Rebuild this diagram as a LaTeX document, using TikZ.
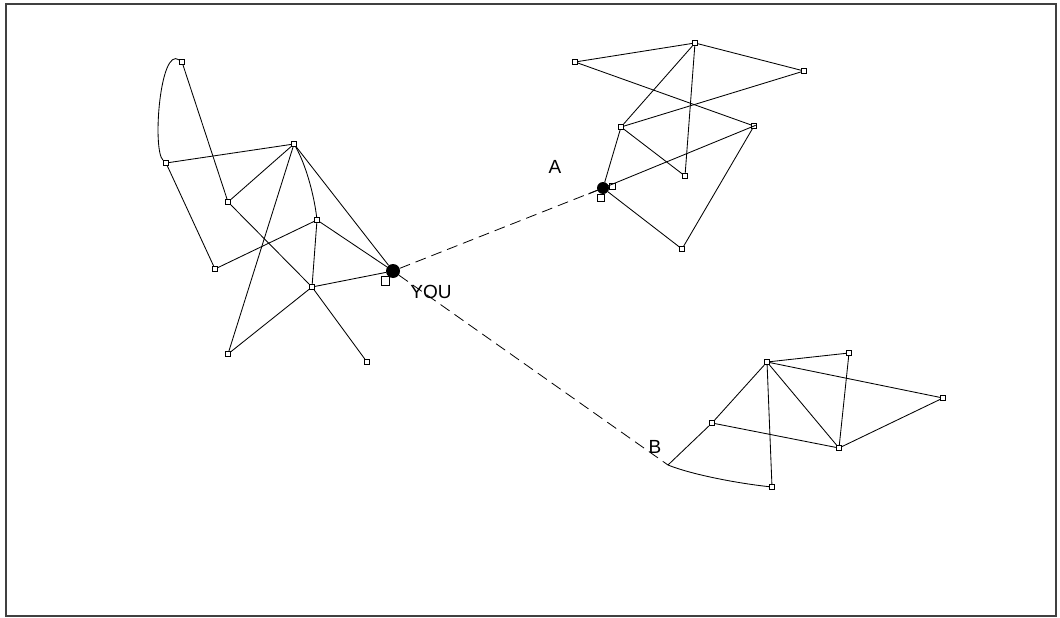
\documentclass[tikz,border=0pt]{standalone}
\usepackage{fontspec}
\setmainfont{Liberation Sans}
\begin{document}
\begin{tikzpicture}[x=1pt,y=-1pt,
  mk/.style={draw,rectangle,minimum size=5pt,inner sep=0pt,line width=0.9pt,fill=white},
  hub/.style={circle,fill=black,minimum size=14pt,inner sep=0pt},
  link/.style={line width=0.85pt},
  tie/.style={line width=0.8pt,dash pattern=on 11pt off 6pt},
  lbl/.style={font=\fontsize{19}{19}\selectfont,inner sep=0pt}]
\useasboundingbox (0,0) rectangle (1060,618);
\draw[black!75,line width=1.6pt] (6,4) rectangle (1056,616);

% left group
\node[mk] (L1) at (182,62) {};
\node[mk] (L2) at (166,163) {};
\node[mk] (L3) at (294,144) {};
\node[mk] (L4) at (228,202) {};
\node[mk] (L5) at (317,220) {};
\node[mk] (L6) at (215,269) {};
\node[mk] (L7) at (312,287) {};
\node[mk] (L8) at (228,354) {};
\node[mk] (L9) at (367,362) {};
\node[hub] (Y) at (393,271) {};
\draw[line width=0.8pt] (381,276) rectangle (389,285);

% upper right group
\node[mk] (R1) at (695,43) {};
\node[mk] (R2) at (575,62) {};
\node[mk] (R3) at (804,71) {};
\node[mk] (R4) at (621,127) {};
\node[mk] (R5) at (754,126) {};
\node[mk] (R6) at (685,176) {};
\node[mk] (R7) at (682,249) {};
\node[hub,minimum size=12pt] (A) at (603,188) {};
\draw[line width=0.7pt] (597,194) rectangle (604,201) (609,183) rectangle (615,189);

% lower right group
\node[mk] (S1) at (767,362) {};
\node[mk] (S2) at (849,353) {};
\node[mk] (S3) at (943,398) {};
\node[mk] (S4) at (712,423) {};
\node[mk] (S5) at (839,448) {};
\node[mk] (S6) at (772,487) {};
\coordinate (B) at (668,465);

\begin{scope}[link]
  \draw (L1) .. controls (160,46) and (152,150) .. (L2);
  \draw (L1) -- (L4);
  \draw (L2) -- (L3);
  \draw (L2) -- (L6);
  \draw (L3) -- (L4);
  \draw (L3) -- (L8);
  \draw (L3) .. controls (306,165) and (314,195) .. (L5);
  \draw (L3) -- (Y);
  \draw (L4) -- (L7);
  \draw (L5) -- (L6);
  \draw (L5) -- (L7);
  \draw (L5) -- (Y);
  \draw (L7) -- (Y);
  \draw (L7) -- (L8);
  \draw (L7) -- (L9);

  \draw (R1) -- (R2);
  \draw (R1) -- (R3);
  \draw (R1) -- (R4);
  \draw (R1) -- (R6);
  \draw (R2) -- (R5);
  \draw (R3) -- (R4);
  \draw (R4) -- (R6);
  \draw (R4) -- (A);
  \draw[shorten <=-5pt,shorten >=-22pt] (R5) -- (A);
  \draw (R5) -- (R7);
  \draw (A) -- (R7);

  \draw (S1) -- (S2);
  \draw (S1) -- (S3);
  \draw (S1) -- (S4);
  \draw (S1) -- (S5);
  \draw (S1) -- (S6);
  \draw (S2) -- (S5);
  \draw (S3) -- (S5);
  \draw (S4) -- (S5);
  \draw (S4) -- (B);
  \draw (B) .. controls (690,474) and (735,483) .. (S6);
\end{scope}

\draw[tie] (Y) -- (A);
\draw[tie] (Y) -- (B);

\node[lbl] (tA) at (555,167) {A};
\node[lbl] (tB) at (655,447) {B};
\node[lbl] (tY) at (431,292) {YOU};
\end{tikzpicture}
\end{document}
